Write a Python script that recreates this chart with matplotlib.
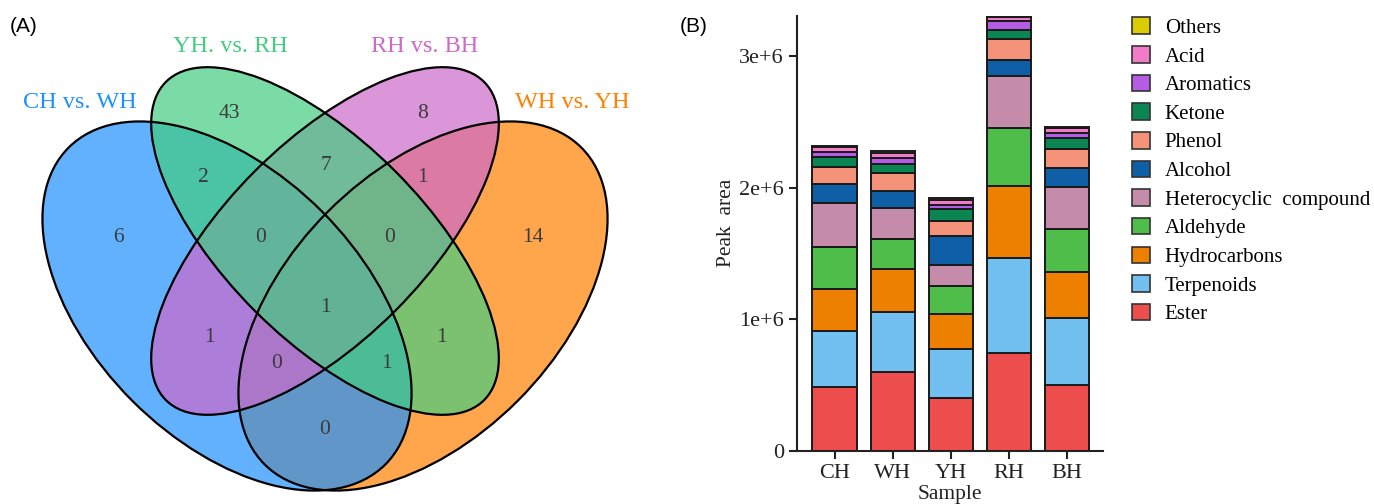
import numpy as np
import matplotlib.pyplot as plt
from matplotlib.patches import Ellipse

# ============================================================
# Data
# ============================================================

# Venn (A)
set_names = ["CH vs. WH", "YH. vs. RH", "RH vs. BH", "WH vs. YH"]
set_colors = ["#1E90FF", "#43CD80", "#CD69C9", "#FF7F00"]

region_counts = [6, 43, 8, 14, 2, 7, 1, 0, 0, 1, 1, 1, 0, 1, 0]

# Stacked bars (B)
samples = ["CH", "WH", "YH", "RH", "BH"]
classes = ["Ester", "Terpenoids", "Hydrocarbons", "Aldehyde",
           "Heterocyclic  compound", "Alcohol", "Phenol", "Ketone",
           "Aromatics", "Acid", "Others"]
ester = [0.488e6, 0.597e6, 0.400e6, 0.742e6, 0.501e6]
terpenoids = [0.425e6, 0.456e6, 0.377e6, 0.721e6, 0.507e6]
hydrocarbons = [0.317e6, 0.331e6, 0.263e6, 0.549e6, 0.353e6]
aldehyde = [0.317e6, 0.226e6, 0.215e6, 0.441e6, 0.325e6]
heterocyclic = [0.334e6, 0.235e6, 0.160e6, 0.397e6, 0.321e6]
alcohol = [0.148e6, 0.133e6, 0.220e6, 0.119e6, 0.139e6]
phenol = [0.127e6, 0.131e6, 0.114e6, 0.159e6, 0.145e6]
ketone = [0.080e6, 0.074e6, 0.090e6, 0.071e6, 0.083e6]
aromatics = [0.034e6, 0.043e6, 0.031e6, 0.066e6, 0.038e6]
acid = [0.038e6, 0.041e6, 0.036e6, 0.031e6, 0.038e6]
others = [0.010e6, 0.011e6, 0.012e6, 0.010e6, 0.014e6]

class_colors = ["#EE4D4E", "#72C0F0", "#EE8000", "#4EBD4A", "#C48CAA",
                "#0E5FA6", "#F5937A", "#0B8552", "#B45CE6", "#F07CC8",
                "#D9CC00"]

series = [ester, terpenoids, hydrocarbons, aldehyde, heterocyclic,
          alcohol, phenol, ketone, aromatics, acid, others]

# ============================================================
# Figure
# ============================================================
fig = plt.figure(figsize=(13.74, 5.04), dpi=100)
serif = "Liberation Serif"

# ----- (A) Venn : axes in pixel units -----
axv = fig.add_axes([0, 0, 650 / 1374, 1])
axv.set_xlim(0, 650)
axv.set_ylim(504, 0)
axv.axis("off")

# ellipse geometry (centre x, centre y, width, height, angle)
ell_geom = [(227, 306, 448, 268, 45),    # CH vs. WH
            (325, 241, 450, 198, 45),    # YH. vs. RH
            (325, 241, 450, 198, -45),   # RH vs. BH
            (423, 306, 448, 268, -45)]   # WH vs. YH
draw_order = [3, 0, 2, 1]
for i in draw_order:
    cx, cy, w, h, ang = ell_geom[i]
    axv.add_patch(Ellipse((cx, cy), w, h, angle=ang, facecolor=set_colors[i],
                          alpha=0.7, edgecolor="none"))
for i in range(4):
    cx, cy, w, h, ang = ell_geom[i]
    axv.add_patch(Ellipse((cx, cy), w, h, angle=ang, fill=False,
                          edgecolor="black", lw=1.6))

region_pos = [(118, 238), (229, 113), (423, 113), (533, 238), (203, 178),
              (326, 165), (422, 178), (261, 237), (390, 237), (325, 307),
              (209, 338), (441, 338), (277, 364), (386, 364), (325, 430)]
for n, (x, y) in zip(region_counts, region_pos):
    axv.text(x, y, str(n), ha="center", va="center", fontsize=15.5,
             family=serif, color="#3a3a3a")

label_pos = [(80, 103), (230, 47), (425, 47), (572, 103)]
for name, col, (x, y) in zip(set_names, set_colors, label_pos):
    axv.text(x, y, name, ha="center", va="center", fontsize=17.5,
             family=serif, color=col)

fig.text(10 / 1374, 1 - 27 / 504, "(A)", ha="left", va="center",
         fontsize=15, family="Liberation Sans")
fig.text(680 / 1374, 1 - 27 / 504, "(B)", ha="left", va="center",
         fontsize=15, family="Liberation Sans")

# ----- (B) stacked bars -----
axb = fig.add_axes([797 / 1374, 1 - 451 / 504, (1103 - 797) / 1374,
                    (451 - 15.7) / 504])
x = np.arange(len(samples))
bottom = np.zeros(len(samples))
for vals, name, col in zip(series, classes, class_colors):
    axb.bar(x, vals, width=0.76, bottom=bottom, color=col,
            edgecolor="#1a1a1a", linewidth=1.4, label=name)
    bottom += np.array(vals)

axb.set_xlim(-0.646, 4.62)
axb.set_ylim(0, bottom.max())
axb.set_yticks([0, 1e6, 2e6, 3e6])
axb.set_yticklabels(["0", "1e+6", "2e+6", "3e+6"])
axb.set_xticks(x)
axb.set_xticklabels(samples)
for s in ["top", "right"]:
    axb.spines[s].set_visible(False)
for s in ["left", "bottom"]:
    axb.spines[s].set_linewidth(1.5)
    axb.spines[s].set_color("#222222")
axb.tick_params(length=6, width=1.5, color="#222222", labelsize=16,
                labelcolor="#222222")
for lab in axb.get_xticklabels() + axb.get_yticklabels():
    lab.set_family(serif)
axb.set_ylabel("Peak  area", fontsize=15.5, family=serif, color="#222222")
axb.yaxis.set_label_coords(-0.199, 0.524)
axb.set_xlabel("Sample", fontsize=15.5, family=serif, color="#222222",
               labelpad=1)

handles, labels = axb.get_legend_handles_labels()
leg = fig.legend(handles[::-1], labels[::-1], loc="upper left",
                 bbox_to_anchor=(1124 / 1374, 1 - 9 / 504), frameon=False,
                 prop={"family": serif, "size": 15}, handlelength=0.85,
                 handleheight=0.85, handletextpad=0.7, labelspacing=0.39,
                 borderaxespad=0)
for h in leg.legend_handles:
    h.set_edgecolor("#333333")
    h.set_linewidth(1.2)

fig.savefig("out.png", dpi=100)
